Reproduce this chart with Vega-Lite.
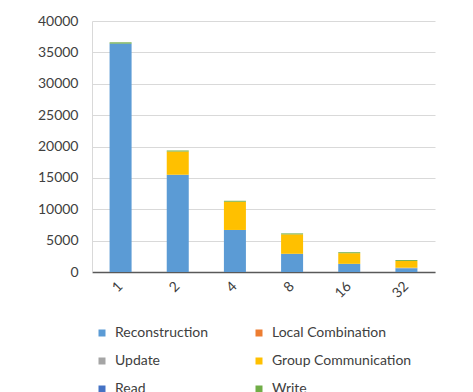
{
  "$schema": "https://vega.github.io/schema/vega-lite/v6.json",
  "autosize": {"type": "none"},
  "width": 343,
  "height": 251,
  "padding": {"left": 92, "top": 21, "right": 38, "bottom": 120},
  "background": "white",
  "config": {
    "font": "Lato",
    "view": {"stroke": null},
    "axis": {"labelFont": "Lato", "labelColor": "#404040", "labelFontSize": 14}
  },
  "data": {
    "values": [
      {"nodes": "1", "task": "Reconstruction", "time": 36400},
      {"nodes": "1", "task": "Group Communication", "time": 0},
      {"nodes": "1", "task": "Write", "time": 200},
      {"nodes": "2", "task": "Reconstruction", "time": 15500},
      {"nodes": "2", "task": "Group Communication", "time": 3700},
      {"nodes": "2", "task": "Write", "time": 150},
      {"nodes": "4", "task": "Reconstruction", "time": 6700},
      {"nodes": "4", "task": "Group Communication", "time": 4500},
      {"nodes": "4", "task": "Write", "time": 150},
      {"nodes": "8", "task": "Reconstruction", "time": 2900},
      {"nodes": "8", "task": "Group Communication", "time": 3100},
      {"nodes": "8", "task": "Write", "time": 150},
      {"nodes": "16", "task": "Reconstruction", "time": 1300},
      {"nodes": "16", "task": "Group Communication", "time": 1700},
      {"nodes": "16", "task": "Write", "time": 150},
      {"nodes": "32", "task": "Reconstruction", "time": 600},
      {"nodes": "32", "task": "Update", "time": 80},
      {"nodes": "32", "task": "Group Communication", "time": 1070},
      {"nodes": "32", "task": "Write", "time": 150},
      {"nodes": "1", "task": "Local Combination", "time": 0},
      {"nodes": "1", "task": "Read", "time": 0}
    ]
  },
  "mark": {"type": "bar"},
  "encoding": {
    "x": {
      "field": "nodes",
      "type": "nominal",
      "sort": ["1", "2", "4", "8", "16", "32"],
      "scale": {"paddingInner": 0.615, "paddingOuter": 0.3075},
      "axis": {
        "title": null,
        "labelAngle": -45,
        "labelAlign": "right",
        "labelBaseline": "middle",
        "labelPadding": 12,
        "ticks": false,
        "domainColor": "#595959",
        "domainWidth": 1.5,
        "grid": false
      }
    },
    "y": {
      "field": "time",
      "type": "quantitative",
      "stack": "zero",
      "scale": {"domain": [0, 40000], "nice": false},
      "axis": {
        "title": null,
        "values": [0, 5000, 10000, 15000, 20000, 25000, 30000, 35000, 40000],
        "format": "d",
        "ticks": false,
        "labelPadding": 14,
        "domainColor": "#d9d9d9",
        "gridColor": "#d9d9d9",
        "gridWidth": 1.2
      }
    },
    "color": {
      "field": "task",
      "type": "nominal",
      "sort": ["Reconstruction", "Local Combination", "Update", "Group Communication", "Read", "Write"],
      "scale": {
        "domain": ["Reconstruction", "Local Combination", "Update", "Group Communication", "Read", "Write"],
        "range": ["#5B9BD5", "#ED7D31", "#A5A5A5", "#FFC000", "#4472C4", "#70AD47"]
      },
      "legend": {
        "title": null,
        "orient": "none",
        "legendX": 3,
        "legendY": 305,
        "direction": "horizontal",
        "columns": 2,
        "symbolType": "square",
        "symbolSize": 49,
        "symbolStrokeWidth": 0,
        "labelFont": "Lato",
        "labelFontSize": 14,
        "labelColor": "#404040",
        "labelOffset": 6,
        "columnPadding": 43,
        "rowPadding": 14
      }
    },
    "order": {"field": "taskOrder"}
  },
  "transform": [
    {"calculate": "indexof(['Reconstruction','Local Combination','Update','Group Communication','Read','Write'], datum.task)", "as": "taskOrder"}
  ]
}
